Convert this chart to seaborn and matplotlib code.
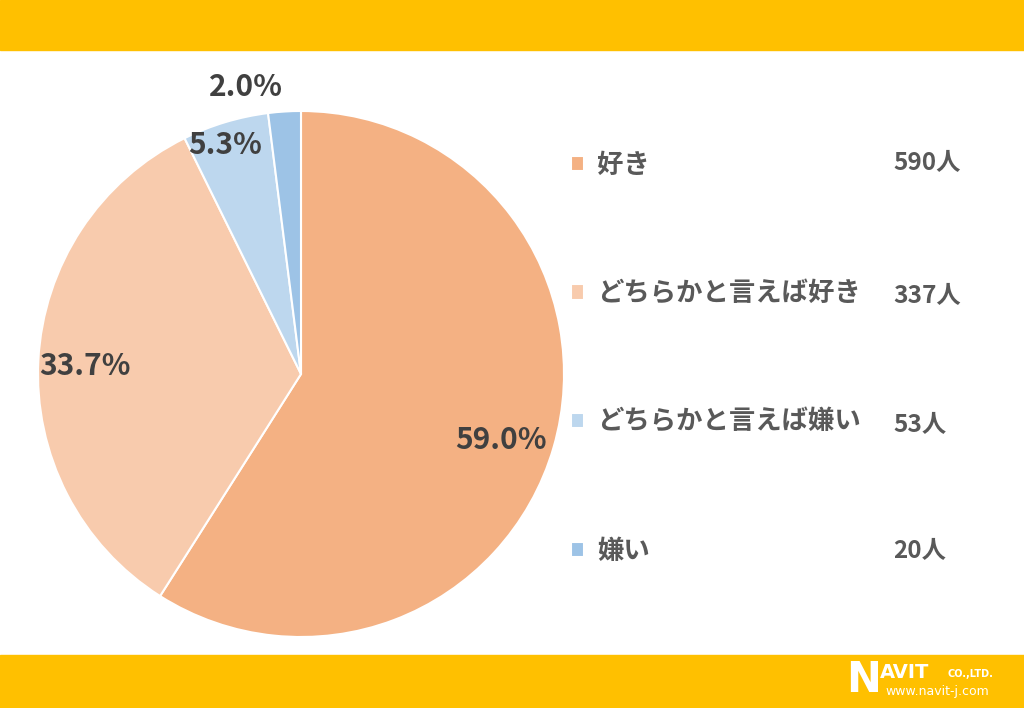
import matplotlib
matplotlib.use("Agg")
import matplotlib.pyplot as plt
import seaborn as sns
from matplotlib.patches import Rectangle

labels = ["好き", "どちらかと言えば好き", "どちらかと言えば嫌い", "嫌い"]
counts = [590, 337, 53, 20]
pct_labels = ["59.0%", "33.7%", "5.3%", "2.0%"]
colors = ["#F4B183", "#F8CBAD", "#BDD7EE", "#9DC3E6"]

sns.set_theme(style="white")
plt.rcParams['font.family'] = ['Noto Sans CJK JP', 'DejaVu Sans']

fig = plt.figure(figsize=(10.24, 7.08), dpi=100)
fig.patch.set_facecolor("white")

# yellow bands top and bottom
fig.patches.append(Rectangle((0, 658/708), 1, 50/708, transform=fig.transFigure,
                             color="#FFC000", zorder=0))
fig.patches.append(Rectangle((0, 0), 1, 53/708, transform=fig.transFigure,
                             color="#FFC000", zorder=0))

# pie axes, placed in pixels
ax = fig.add_axes([38/1024, 71/708, 526/1024, 526/708])
wedges, _ = ax.pie(counts, colors=colors, startangle=90, counterclock=False,
                   wedgeprops=dict(edgecolor="white", linewidth=1.5))
ax.set_xlim(-1, 1)
ax.set_ylim(-1, 1)
ax.set_aspect("equal")

# percentage labels
pos = [(0.76, -0.25), (-0.82, 0.03), (-0.29, 0.87), (-0.21, 1.09)]
for (x, y), t in zip(pos, pct_labels):
    ax.text(x, y, t, ha="center", va="center", fontsize=21.5, fontweight="bold",
            color="#404040", clip_on=False)

# legend
leg = fig.legend(wedges, labels, loc="upper left", bbox_to_anchor=(547/1024, 580/708),
                 frameon=False, handlelength=0.5, handleheight=0.5,
                 handletextpad=0.5, labelspacing=3.85, labelcolor="#595959",
                 prop=dict(size=19, weight="bold"))

ys = [163, 296, 425, 551]
for y, c in zip(ys, counts):
    fig.text(893/1024, 1 - y/708, f"{c}人", ha="left", va="center", fontsize=17.5,
             fontweight="bold", color="#595959")

# logo
fig.text(846/1024, 1 - 680/708, "N", color="white", fontsize=30, fontweight="bold",
         ha="left", va="center", family="DejaVu Sans")
fig.text(880/1024, 1 - 672/708, "AVIT", color="white", fontsize=14, fontweight="bold",
         ha="left", va="center", family="DejaVu Sans")
fig.text(948/1024, 1 - 674/708, "CO.,LTD.", color="white", fontsize=7, fontweight="bold",
         ha="left", va="center", family="DejaVu Sans")
fig.text(885/1024, 1 - 692/708, "www.navit-j.com", color="white", fontsize=9,
         ha="left", va="center", family="DejaVu Sans")

fig.savefig("out.png", dpi=100)
